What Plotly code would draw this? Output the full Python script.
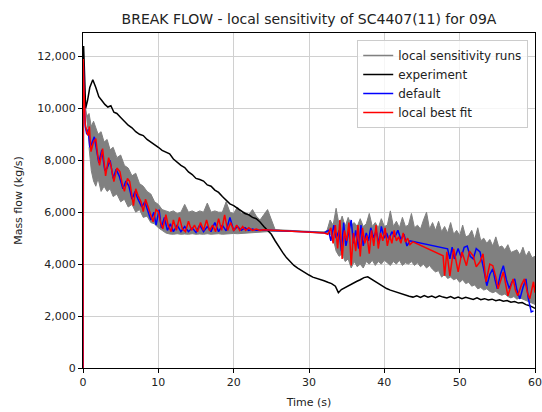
import plotly.graph_objects as go

# ---------------- data ----------------
exp_t = [0, 0.08, 0.15, 0.35, 0.6, 0.9, 1.3, 1.7, 2.1, 2.5, 2.9, 3.3, 3.7, 4.1, 4.5, 5.0, 5.5, 6.0, 6.5, 7.0,
         7.5, 8.0, 8.5, 9.0, 9.5, 10.0, 10.5, 11, 11.5, 12, 12.5, 13, 13.5, 14, 14.5, 15, 15.5, 16, 16.5, 17,
         17.5, 18, 18.5, 19, 19.5, 20, 20.5, 21, 21.5, 22, 22.5, 23, 23.5, 24, 24.5, 25, 25.5, 26, 26.5, 27,
         27.5, 28, 28.5, 29, 29.5, 30, 30.5, 31, 31.5, 32, 32.5, 33, 33.5, 33.9, 34.3, 34.8, 35.3, 35.8, 36.3,
         36.8, 37.3, 37.8, 38.3, 38.8, 39.3, 39.8, 40.3, 40.8, 41.3, 41.8, 42.3, 42.8, 43.3, 43.8, 44.3, 44.8,
         45.3, 45.8, 46.3, 46.8, 47.3, 47.8, 48.3, 48.8, 49.3, 49.8, 50.3, 50.8, 51.3, 51.8, 52.3, 52.8, 53.3,
         53.8, 54.3, 54.8, 55.3, 55.8, 56.3, 56.8, 57.3, 57.8, 58.3, 58.8, 59.3, 59.7, 60]
exp_v = [0, 12400, 11800, 10000, 10300, 10800, 11100, 10800, 10450, 10300, 10150, 10050, 10100, 9850, 9800,
         9650, 9500, 9350, 9250, 9100, 9000, 8950, 8800, 8700, 8620, 8500, 8380, 8320, 8250, 8050, 7920, 7800,
         7720, 7550, 7450, 7300, 7260, 7200, 7050, 7000, 6850, 6760, 6600, 6450, 6320, 6250, 6150, 6060, 5950,
         5900, 5800, 5750, 5620, 5450, 5300, 5150, 4900, 4650, 4450, 4250, 4100, 3950, 3850, 3750, 3660, 3580,
         3500, 3460, 3400, 3360, 3300, 3250, 3150, 2900, 3020, 3100, 3200, 3250, 3330, 3400, 3480, 3510, 3420,
         3330, 3230, 3150, 3060, 3000, 2950, 2900, 2830, 2800, 2760, 2730, 2780, 2720, 2790, 2730, 2770, 2710,
         2780, 2730, 2700, 2750, 2680, 2730, 2670, 2720, 2680, 2640, 2700, 2630, 2670, 2620, 2650, 2590, 2630,
         2570, 2600, 2530, 2560, 2500, 2520, 2440, 2400, 2360, 2300]

fit_t = [0, 0.03, 0.15, 0.3, 0.5, 0.66, 0.85, 1.06, 1.4, 1.7, 1.95, 2.2, 2.6, 2.8, 3.0, 3.4, 3.7, 4.1, 4.5,
         4.9, 5.2, 5.5, 5.9, 6.2, 6.5, 6.7, 7.0, 7.3, 7.7, 8.0, 8.3, 8.6, 9.0, 9.3, 9.7, 10.0, 10.3, 10.6,
         11.0, 11.3, 11.7, 12.0, 12.4, 12.8, 13.2, 13.6, 14.0, 14.4, 14.8, 15.2, 15.6, 16.0, 16.4, 16.8, 17.2,
         17.6, 18.0, 18.4, 18.8, 19.2, 19.6, 20.0, 20.4, 20.8, 21.2, 21.6, 22.0, 22.5, 23.0, 23.5, 24.0, 26.0,
         28.0, 30.0, 32.0, 32.5, 32.9, 33.2, 33.5, 33.8, 34.1, 34.4, 34.7, 35.0, 35.3, 35.6, 35.9, 36.2, 36.5,
         36.8, 37.1, 37.4, 37.7, 38.0, 38.3, 38.6, 38.9, 39.2, 39.5, 39.8, 40.1, 40.4, 40.7, 41.0, 41.3, 41.6,
         41.9, 42.2, 42.5, 42.8, 43.1, 43.4, 43.8, 47.8, 48.0, 48.3, 48.7, 49.2, 49.8, 50.3, 50.9,
         51.3, 51.8, 52.2, 52.7, 53.1, 53.5, 54.0, 54.4, 54.8, 55.1, 55.8, 56.1, 56.4, 57.1, 57.4, 57.7, 58.2,
         58.6, 59.0, 59.3, 59.8, 60.0]
fit_v = [0, 11900, 10500, 9400, 9100, 8950, 9300, 8330, 8700, 8830, 8200, 7800, 8450, 8000, 7400, 8100, 7800,
         7180, 7700, 7560, 7100, 6800, 7300, 7180, 6700, 6250, 6900, 6640, 6400, 6020, 6500, 6250, 5900, 5630,
         6100, 6020, 5600, 5360, 5900, 5500, 5250, 5700, 5300, 5800, 5350, 5250, 5650, 5300, 5500, 5250, 5600,
         5300, 5700, 5280, 5500, 5250, 5750, 5300, 5900, 5300, 5600, 5280, 5500, 5300, 5450, 5300, 5400, 5300,
         5350, 5300, 5320, 5290, 5270, 5240, 5200, 5150, 5400, 4800, 5500, 4600, 5700, 4200, 5300, 4900, 5600,
         3950, 5200, 4500, 5500, 4300, 5400, 4800, 5100, 4400, 5300, 4700, 5500, 4600, 5200, 4900, 5400, 4700,
         5100, 4800, 5300, 4900, 5050, 4800, 5200, 4850, 5000, 4750, 4860, 4320, 3550, 4470, 3550,
         4590, 3700, 4470, 3940, 4500, 4320, 3900, 4090, 4400, 3320, 4000, 3940, 3500, 3050, 3700, 3200, 2780,
         3430, 3000, 2780, 3200, 3430, 2900, 2660, 3320, 2900]

def_t = [0, 0.03, 0.15, 0.3, 0.5, 0.7, 0.9, 1.1, 1.5, 1.8, 2.1, 2.5, 2.9, 3.2, 3.6, 4.0, 4.4, 4.8, 5.3, 5.7,
         6.1, 6.5, 6.9, 7.3, 7.8, 8.2, 8.6, 9.0, 9.4, 9.7, 10.1, 10.4, 10.8, 11.2, 11.6, 12.0, 12.5, 13.0, 13.5,
         14.0, 14.5, 15.0, 15.5, 16.0, 16.5, 17.0, 17.5, 18.0, 18.5, 19.0, 19.5, 20.0, 20.5, 21.0, 21.5, 22.0,
         22.5, 23.0, 24.0, 26.0, 28.0, 30.0, 32.0, 32.6, 32.9, 33.3, 33.6, 34.0, 34.3, 34.6, 34.9, 35.3, 35.6,
         35.9, 36.2, 36.6, 36.9, 37.2, 37.6, 37.9, 38.2, 38.6, 38.9, 39.3, 39.6, 40.0, 40.3, 40.6, 41.0, 41.4,
         41.8, 42.2, 42.6, 43.0, 43.4, 48.4, 48.7, 49.0, 49.3, 49.8, 50.2, 50.6, 51.0,
         51.4, 51.8, 52.2, 52.7, 53.2, 53.6, 54.0, 54.4, 54.7, 55.0, 55.4, 55.8, 56.2, 56.6, 56.9, 57.3, 57.6,
         58.0, 58.4, 58.8, 59.1, 59.5, 59.8, 60.0]
def_v = [0, 11900, 10400, 9300, 9000, 9200, 8500, 8600, 8900, 8300, 7900, 8400, 7600, 7700, 8000, 7300, 7650,
         7400, 6900, 7200, 7000, 6500, 6800, 6500, 6200, 6400, 6000, 5700, 6000, 5500, 6100, 5400, 5800, 5300,
         5550, 5250, 5500, 5250, 5450, 5250, 5400, 5220, 5500, 5250, 5450, 5250, 5600, 5250, 5500, 5280, 5800,
         5300, 5450, 5300, 5400, 5300, 5350, 5300, 5310, 5290, 5270, 5240, 5200, 5300, 4900, 5500, 5000, 5300,
         4500, 5600, 4700, 5200, 5700, 4800, 5300, 4600, 5500, 4700, 5200, 4900, 5400, 5000, 5300, 4800, 5450,
         5000, 5200, 4950, 5250, 5050, 5300, 4950, 5150, 4700, 4900, 4590, 4200, 4650,
         4200, 4600, 4250, 4650, 4700, 4300, 4200, 4600, 4470, 3800, 3170, 3600, 3820, 3400, 3050, 3600,
         3940, 3400, 3050, 3300, 3430, 3000, 2660, 3100, 3430, 2700, 2160, 2200]

runs_t = [0.2, 0.5, 0.8, 1.1, 1.4, 1.7, 2.0, 2.4, 2.8, 3.2, 3.6, 4.0, 4.5, 5.0, 5.5, 6.0, 6.5, 7.0, 7.5,
          8.0, 8.5, 9.0, 9.5, 10.0, 10.5, 11.0, 11.5, 12.0, 12.5, 13.0, 13.5, 14.0, 14.5, 15.0, 15.5, 16.0,
          16.5, 17.0, 17.5, 18.0, 18.5, 19.0, 19.5, 20.0, 20.5, 21.0, 21.5, 22.0, 22.5, 23.0, 23.5, 24.0, 24.5,
          25.5, 28.0, 30.0, 32.0, 32.4, 32.8, 33.2, 33.6, 34.0, 34.4, 34.8, 35.2, 35.6, 36.0, 36.4, 36.8, 37.2,
          37.6, 38.0, 38.4, 38.8, 39.2, 39.6, 40.0, 40.4, 40.8, 41.2, 41.6, 42.0, 42.4, 42.8, 43.2, 43.6, 44.0,
          44.4, 44.8, 45.2, 45.6, 46.0, 46.4, 46.8, 47.2, 47.6, 48.0, 48.4, 48.8, 49.2, 49.6, 50.0, 50.4, 50.8,
          51.2, 51.6, 52.0, 52.4, 52.8, 53.2, 53.6, 54.0, 54.4, 54.8, 55.2, 55.6, 56.0, 56.4, 56.8, 57.2, 57.6,
          58.0, 58.4, 58.8, 59.2, 59.6, 60.0]
runs_hi = [10300, 9700, 9800, 9300, 9500, 9200, 9000, 9100, 8700, 8800, 8400, 8500, 8100, 8200, 7800,
           7700, 7400, 7500, 7100, 7000, 6800, 6700, 6400, 6300, 6100, 6050, 6000, 6050, 5950, 6000, 6300, 6000,
           6050, 5980, 6050, 6000, 6350, 6000, 6050, 6000, 6000, 6400, 6000, 5950, 6200, 5950, 6000, 5900, 6100,
           5850, 5700, 5900, 6100, 5330, 5300, 5270, 5230, 5300, 5700, 5500, 6150, 5500, 5850, 5450, 5800, 5500,
           5600, 5450, 5750, 5450, 5550, 5950, 5450, 5600, 5400, 5750, 5450, 5500, 6050, 5450, 5650, 5400, 5800,
           5450, 5500, 5950, 5400, 5500, 5350, 5700, 6000, 5350, 5600, 5300, 5650, 5250, 5450, 5200, 5600, 5150,
           5300, 5100, 5500, 5050, 5100, 5300, 4950, 5400, 4900, 5000, 4800, 4950, 4700, 5050, 4650, 4700, 4550,
           4750, 4450, 4500, 4550, 4350, 4650, 4300, 4500, 4250, 4300]
runs_lo = [8500, 7600, 7200, 7000, 7300, 6800, 7000, 6800, 6900, 6600, 6700, 6400, 6500, 6200, 6300, 6000,
           6100, 5800, 5850, 5600, 5550, 5400, 5300, 5200, 5160, 5150, 5170, 5150, 5160, 5150, 5170, 5150, 5160,
           5150, 5170, 5150, 5160, 5170, 5150, 5160, 5170, 5180, 5170, 5190, 5200, 5210, 5200, 5220, 5230, 5240,
           5250, 5260, 5270, 5260, 5240, 5210, 5170, 5000, 4500, 4300, 4400, 4100, 4200, 3850, 4100, 3900, 4000,
           3850, 4100, 4000, 4150, 3950, 4100, 4000, 4150, 4050, 3950, 4100, 4000, 4150, 3950, 4050, 4000, 4100,
           3950, 4050, 3900, 4000, 3850, 3950, 3800, 3700, 3750, 3500, 3600, 3450, 3500, 3400, 3450, 3300, 3400,
           3250, 3300, 3150, 3200, 3050, 3100, 3000, 3050, 2950, 2900, 2950, 2850, 2800, 2850, 2750, 2700, 2750,
           2650, 2700, 2650, 2600, 2550, 2500, 2450]

x_ticks = [0, 10, 20, 30, 40, 50, 60]
y_ticks = [0, 2000, 4000, 6000, 8000, 10000, 12000]

GREY = "#808080"

fig = go.Figure()

# sensitivity runs envelope
fig.add_trace(go.Scatter(
    x=runs_t + runs_t[::-1], y=runs_hi + runs_lo[::-1],
    fill="toself", fillcolor=GREY, mode="lines",
    line=dict(color=GREY, width=1), showlegend=False, hoverinfo="skip"))
fig.add_trace(go.Scatter(x=[None], y=[None], mode="lines", name="local sensitivity runs",
                         line=dict(color=GREY, width=1.5)))
fig.add_trace(go.Scatter(x=exp_t, y=exp_v, mode="lines", name="experiment",
                         line=dict(color="black", width=1.5)))
fig.add_trace(go.Scatter(x=def_t, y=def_v, mode="lines", name="default",
                         line=dict(color="#0000ff", width=1.5)))
fig.add_trace(go.Scatter(x=fit_t, y=fit_v, mode="lines", name="local best fit",
                         line=dict(color="#ff0000", width=1.5)))

axis_common = dict(
    showline=True, linecolor="black", linewidth=1, mirror=True,
    showgrid=True, gridcolor="#d0d0d0", gridwidth=1, zeroline=False,
    ticks="outside", ticklen=4, tickcolor="black", automargin=False,
    tickfont=dict(family="DejaVu Sans", size=11, color="#222"),
)

fig.update_layout(
    width=542, height=412, autosize=False,
    margin=dict(l=83, r=7, t=33, b=44, autoexpand=False),
    paper_bgcolor="white", plot_bgcolor="white",
    font=dict(family="DejaVu Sans", color="#222"),
    title=dict(text="BREAK FLOW - local sensitivity of SC4407(11) for 09A",
               x=(83 + 535) / 2 / 542, xanchor="center", y=1 - 19 / 412, yanchor="middle",
               font=dict(size=14, family="DejaVu Sans", color="#222")),
    xaxis=dict(range=[0, 60], tickvals=x_ticks,
               title=dict(text="Time (s)", font=dict(size=11), standoff=10), **axis_common),
    yaxis=dict(range=[0, 12900], tickvals=y_ticks, tickformat=",d",
               title=dict(text="Mass flow (kg/s)", font=dict(size=11), standoff=12), **axis_common),
    legend=dict(x=0.985, xanchor="right", y=0.979, yanchor="top",
                bgcolor="rgba(255,255,255,0.8)", bordercolor="#cccccc", borderwidth=1,
                font=dict(size=12, family="DejaVu Sans", color="#222"),
                tracegroupgap=0, itemwidth=30),
    showlegend=True,
)

fig.write_html("out.html", config={"responsive": False})
